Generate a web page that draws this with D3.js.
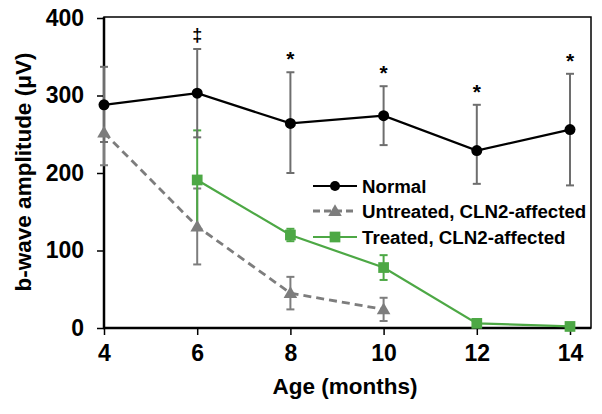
<!DOCTYPE html>
<html><head><meta charset="utf-8">
<script src="https://cdn.jsdelivr.net/npm/d3@7"></script>
<style>body{margin:0;background:#fff}svg{display:block}</style>
</head><body>
<svg id="c" width="602" height="414"></svg>
<script>
const ages = [4, 6, 8, 10, 12, 14];
const normalVals  = [288, 303, 264, 274, 229, 256];
const normalUp    = [337, 360, 330, 312, 288, 328];
const normalLo    = [240, 246, 200, 236, 186, 184];
const untreatedAges = [4, 6, 8, 10];
const untreatedVals = [252, 131, 45, 24];
const untreatedUp   = [292, 180, 66, 39];
const untreatedLo   = [210, 82, 24, 9];
const treatedAges = [6, 8, 10, 12, 14];
const treatedVals = [191, 120, 78, 6, 2];
const treatedUp   = [255, 128, 94, 8, 3];
const treatedLo   = [127, 112, 62, 4, 1];
const marks = ["‡", "*", "*", "*", "*"];
const markAges = [6, 8, 10, 12, 14];
const xTicks = [4, 6, 8, 10, 12, 14];
const yTicks = [0, 100, 200, 300, 400];
const legendLabels = ["Normal", "Untreated, CLN2-affected", "Treated, CLN2-affected"];

const svg = d3.select("#c");
const L = 104, R = 591, T = 17, B = 328;
const x = d3.scaleLinear().domain([4, 14]).range([L, 570]);
const y = d3.scaleLinear().domain([0, 400]).range([B, 18]);
const font = "'Liberation Sans', Arial, sans-serif";
const green = "#4da845", gray = "#7d7d7d", errC = "#6e6e6e";

// frame
svg.append("rect").attr("x", L).attr("y", T).attr("width", R - L).attr("height", B - T)
  .attr("fill", "none").attr("stroke", "#000").attr("stroke-width", 1.5);

// axes
const xa = svg.append("g").attr("transform", `translate(0,${B})`)
  .call(d3.axisBottom(x).tickValues(xTicks).tickSize(7).tickPadding(10).tickFormat(d3.format("d")));
const ya = svg.append("g").attr("transform", `translate(${L},0)`)
  .call(d3.axisLeft(y).tickValues(yTicks).tickSize(7).tickPadding(13));
[xa, ya].forEach(a => {
  a.select(".domain").remove();
  a.selectAll("line").attr("stroke", "#000").attr("stroke-width", 1.5);
  a.selectAll("text").attr("font-family", font).attr("font-weight", "bold")
    .attr("font-size", 23).attr("fill", "#000");
});
svg.append("line").attr("x1", L).attr("x2", L).attr("y1", T).attr("y2", B + 1)
  .attr("stroke", "#000").attr("stroke-width", 2.5);
svg.append("line").attr("x1", L - 1).attr("x2", R).attr("y1", B).attr("y2", B)
  .attr("stroke", "#000").attr("stroke-width", 2.5);

// titles
svg.append("text").attr("x", 345).attr("y", 394).attr("text-anchor", "middle")
  .attr("font-family", font).attr("font-weight", "bold").attr("font-size", 22.5).text("Age (months)");
svg.append("text").attr("transform", "translate(31,172) rotate(-90)").attr("text-anchor", "middle")
  .attr("font-family", font).attr("font-weight", "bold").attr("font-size", 22.5).text("b-wave amplitude (μV)");

function errBars(xs, lo, up, color) {
  const g = svg.append("g").attr("stroke", color).attr("stroke-width", 2);
  xs.forEach((a, i) => {
    g.append("line").attr("x1", x(a)).attr("x2", x(a)).attr("y1", y(lo[i])).attr("y2", y(up[i]));
    [lo[i], up[i]].forEach(v => g.append("line").attr("x1", x(a) - 4).attr("x2", x(a) + 4)
      .attr("y1", y(v)).attr("y2", y(v)));
  });
}
const line = (xs) => d3.line().x((d, i) => x(xs[i])).y(d => y(d));

// Untreated
errBars(untreatedAges, untreatedLo, untreatedUp, gray);
svg.append("path").attr("d", line(untreatedAges)(untreatedVals)).attr("fill", "none")
  .attr("stroke", gray).attr("stroke-width", 2.8).attr("stroke-dasharray", "8,5");
// Treated
errBars(treatedAges, treatedLo, treatedUp, green);
svg.append("path").attr("d", line(treatedAges)(treatedVals)).attr("fill", "none")
  .attr("stroke", green).attr("stroke-width", 2.2);
// Normal
errBars(ages, normalLo, normalUp, errC);
svg.append("path").attr("d", line(ages)(normalVals)).attr("fill", "none")
  .attr("stroke", "#000").attr("stroke-width", 2.2);

const tri = d3.symbol().type(d3.symbolTriangle).size(80);
const sq = d3.symbol().type(d3.symbolSquare).size(115);
svg.append("g").selectAll("path").data(untreatedVals).join("path")
  .attr("d", tri).attr("fill", gray)
  .attr("transform", (d, i) => `translate(${x(untreatedAges[i])},${y(d) + 1})`);
svg.append("g").selectAll("rect").data(treatedVals).join("path")
  .attr("d", sq).attr("fill", green)
  .attr("transform", (d, i) => `translate(${x(treatedAges[i])},${y(d)})`);
svg.append("g").selectAll("circle").data(normalVals).join("circle")
  .attr("cx", (d, i) => x(ages[i])).attr("cy", d => y(d)).attr("r", 5.5).attr("fill", "#000");

// significance marks
svg.append("g").selectAll("text").data(marks).join("text")
  .attr("x", (d, i) => x(markAges[i]))
  .attr("y", (d, i) => y(normalUp[ages.indexOf(markAges[i])]) - (d === "‡" ? 8 : 6))
  .attr("text-anchor", "middle").attr("font-family", font).attr("font-weight", "bold")
  .attr("font-size", d => d === "‡" ? 18 : 21).text(d => d);

// legend
const lg = svg.append("g");
const lgY = [186, 211, 237];
const lgCol = ["#000", gray, green];
legendLabels.forEach((t, i) => {
  lg.append("line").attr("x1", 313).attr("x2", 357).attr("y1", lgY[i]).attr("y2", lgY[i])
    .attr("stroke", lgCol[i]).attr("stroke-width", i === 1 ? 2.8 : 2.2)
    .attr("stroke-dasharray", i === 1 ? "7,4" : null);
  if (i === 0) lg.append("circle").attr("cx", 335).attr("cy", lgY[i]).attr("r", 5).attr("fill", "#000");
  if (i === 1) lg.append("path").attr("d", tri).attr("fill", gray).attr("transform", `translate(335,${lgY[i] + 1})`);
  if (i === 2) lg.append("path").attr("d", sq).attr("fill", green).attr("transform", `translate(335,${lgY[i]})`);
  lg.append("text").attr("x", 362).attr("y", lgY[i] + 7).attr("font-family", font)
    .attr("font-weight", "bold").attr("font-size", 18.7).text(t);
});
</script>
</body></html>
